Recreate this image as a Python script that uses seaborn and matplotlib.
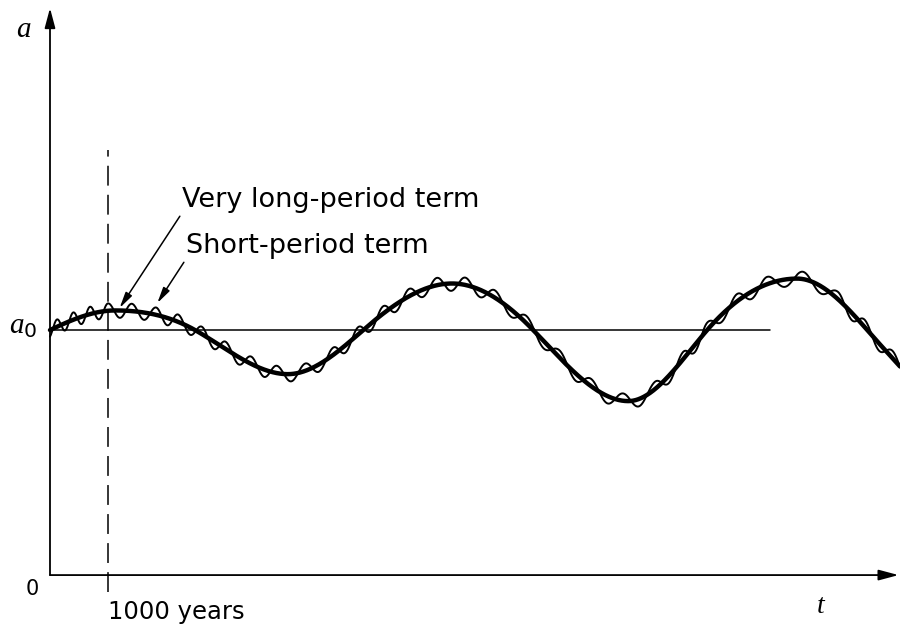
import numpy as np
import pandas as pd
import matplotlib
matplotlib.use("Agg")
import matplotlib.pyplot as plt
import seaborn as sns

# Long-period term: knots of the thick curve (time in years, a in units of a0)
long_t = [0, 1120, 2500, 4100, 5400, 6930, 8330, 9970, 11330, 12880, 14090, 14660]
long_a = [1.00, 1.08, 1.00, 0.82, 1.00, 1.19, 1.00, 0.71, 1.00, 1.21, 1.00, 0.85]

# Short-period term: times of its crests (years) and its amplitude
short_crests = [120, 400, 690, 1000, 1410, 1830, 2210, 2620, 3030, 3470, 3910,
                4400, 4880, 5310, 5740, 6190, 6670, 7160, 7670, 8220, 8790,
                9330, 9880, 10430, 10910, 11330, 11840, 12360, 12980, 13590,
                14050, 14530]
short_amp = 0.03

a0 = 1.0
a0_line_end = 12410
marker_t = 1000

sns.set_theme(style="white")
plt.rcParams["font.family"] = ["DejaVu Sans"]
plt.rcParams["text.color"] = "black"
plt.rcParams["mathtext.fontset"] = "custom"
plt.rcParams["mathtext.it"] = "Liberation Serif:italic"
plt.rcParams["mathtext.rm"] = "Liberation Serif"
plt.rcParams["mathtext.sf"] = "DejaVu Sans"


def long_period(tk, ak, t):
    """Smooth sinusoid-like curve through the knots (zero slope at extrema)."""
    tk = np.asarray(tk, float)
    ak = np.asarray(ak, float)
    n = len(tk)
    m = np.zeros(n)
    for k in range(n):
        if k == n - 1:
            m[k] = (ak[k] - ak[k - 1]) / (tk[k] - tk[k - 1])
        elif ak[k] != a0:
            m[k] = 0.0
        else:
            sides = []
            if k > 0:
                sides.append((ak[k] - ak[k - 1]) / (tk[k] - tk[k - 1]))
            if k + 1 < n - 1:
                sides.append((ak[k + 1] - ak[k]) / (tk[k + 1] - tk[k]))
            m[k] = np.pi / 2 * np.mean(sides)
    i = np.clip(np.searchsorted(tk, t, side="right") - 1, 0, n - 2)
    h = tk[i + 1] - tk[i]
    s = (t - tk[i]) / h
    h00 = 2 * s**3 - 3 * s**2 + 1
    h10 = s**3 - 2 * s**2 + s
    h01 = -2 * s**3 + 3 * s**2
    h11 = s**3 - s**2
    return h00 * ak[i] + h10 * h * m[i] + h01 * ak[i + 1] + h11 * h * m[i + 1]


def short_period(crests, amp, t):
    c = np.asarray(crests, float)
    ph = np.interp(t, c, np.arange(len(c)))
    lo = t < c[0]
    ph[lo] = (t[lo] - c[0]) / (c[1] - c[0])
    hi = t > c[-1]
    ph[hi] = len(c) - 1 + (t[hi] - c[-1]) / (c[-1] - c[-2])
    return amp * np.cos(2 * np.pi * ph)


t = np.linspace(long_t[0], long_t[-1], 3000)
thick = long_period(long_t, long_a, t)
thin = thick + short_period(short_crests, short_amp, t)
df = pd.DataFrame({"t": t, "long": thick, "total": thin})

fig = plt.figure(figsize=(9, 6.28), dpi=100)
ax = fig.add_axes([0, 0, 1, 1])

# axes with arrow heads
axis_arrow = dict(arrowstyle="-|>,head_length=1.2,head_width=0.32", lw=1.3,
                  color="black", shrinkA=0, shrinkB=0, mutation_scale=10)
ax.annotate("", xy=(0, 2.314), xytext=(0, 0), arrowprops=axis_arrow)
ax.annotate("", xy=(14630, 0), xytext=(0, 0), arrowprops=axis_arrow)

# reference level a0 and the 1000-year marker
ax.plot([0, a0_line_end], [a0, a0], color="black", lw=1.1)
ax.plot([marker_t, marker_t], [-0.069, 1.735], color="black", lw=1.1,
        dashes=(13, 6))

sns.lineplot(data=df, x="t", y="total", ax=ax, color="black", lw=1.4,
             estimator=None, sort=False)
sns.lineplot(data=df, x="t", y="long", ax=ax, color="black", lw=3.2,
             estimator=None, sort=False)
ax.set_xlim(-862, 14655)
ax.set_ylim(-0.216, 2.347)
ax.set_axis_off()

pointer = dict(arrowstyle="-|>,head_length=0.95,head_width=0.22", lw=1.1,
               color="black", shrinkA=0, shrinkB=0, mutation_scale=10,
               relpos=(0, 0))
ax.annotate("Very long-period term", xy=(1200, 1.09), xytext=(2276, 1.531),
            ha="left", va="center", fontsize=19.5, arrowprops=pointer)
ax.annotate("Short-period term", xy=(1850, 1.11), xytext=(2345, 1.343),
            ha="left", va="center", fontsize=19.5, arrowprops=pointer)

ax.text(marker_t, -0.151, "1000 years", ha="left", va="center", fontsize=17.5)
ax.text(-310, -0.055, "0", ha="center", va="center", fontsize=15)
ax.text(13293, -0.122, "$t$", ha="center", va="center", fontsize=20)
ax.text(-448, 2.196, "$a$", ha="center", va="baseline", fontsize=21)
ax.text(-470, 0.985, r"$a_\mathsf{0}$", ha="center", va="baseline", fontsize=21)

fig.savefig("out.png", dpi=100)
